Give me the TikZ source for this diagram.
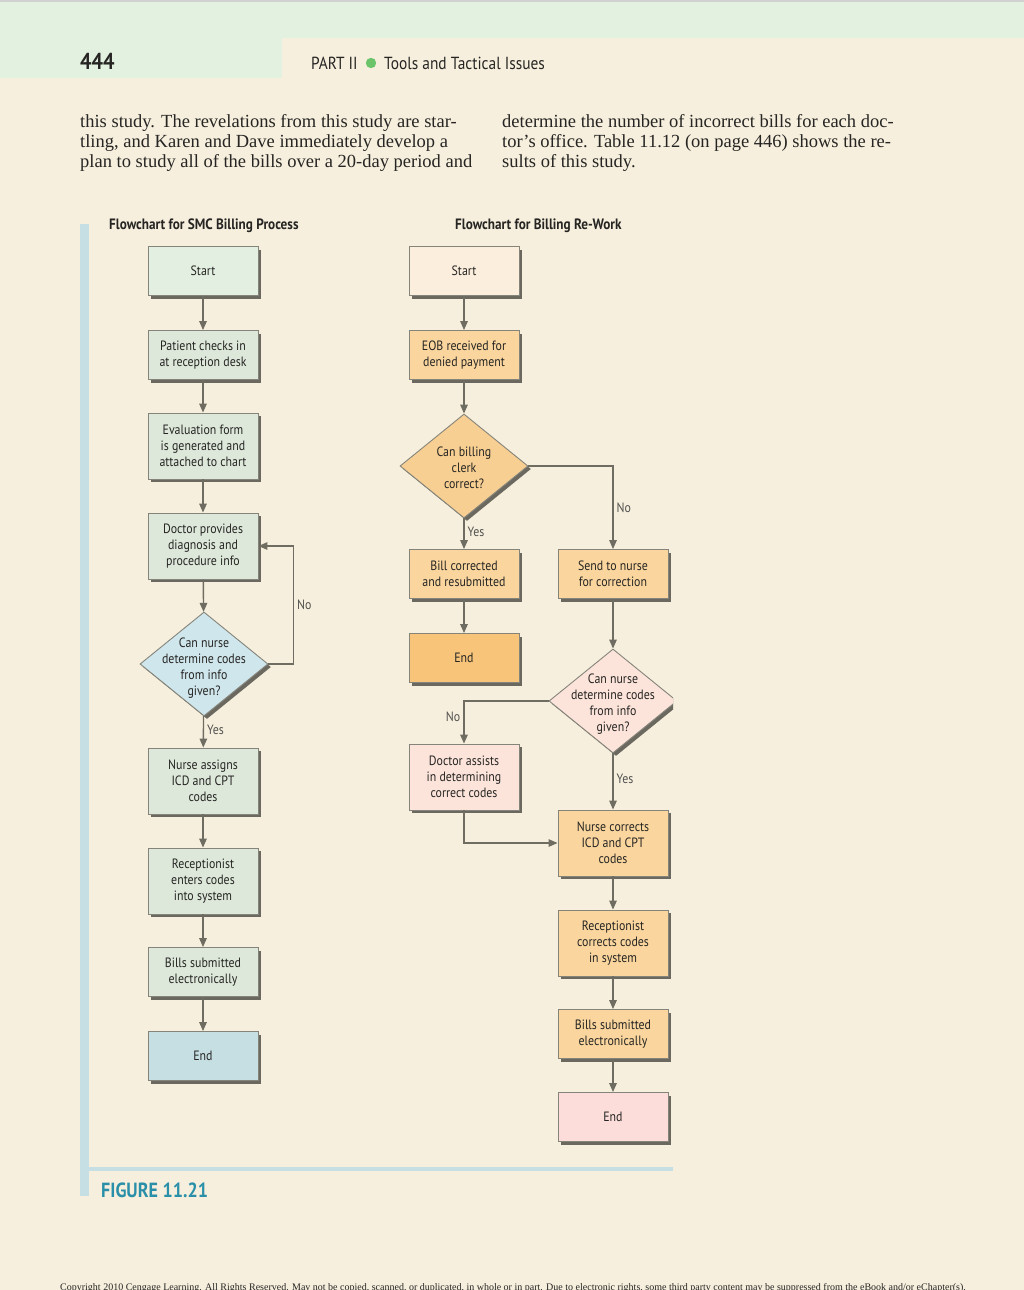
\documentclass[tikz,border=0pt]{standalone}
\usepackage{fontspec}
\setmainfont{Liberation Serif}
\newfontfamily\chartfont[FakeStretch=0.88]{PT Sans}
\usetikzlibrary{arrows.meta,shapes.geometric,shadows}
\definecolor{paper}{HTML}{F6EFDD}
\definecolor{headgreen}{HTML}{E2F1E0}
\definecolor{dotgreen}{HTML}{6CC46A}
\definecolor{ink}{HTML}{262523}
\definecolor{boxline}{HTML}{85847A}
\definecolor{shadowc}{HTML}{6A685F}
\definecolor{arrowc}{HTML}{6F6D62}
\definecolor{panelblue}{HTML}{C5DFE4}
\definecolor{figteal}{HTML}{2A8FA8}
% left chart
\definecolor{lbox}{HTML}{DDE8DA}
\definecolor{lstart}{HTML}{E3EFE1}
\definecolor{ldia}{HTML}{CFE6EC}
\definecolor{lend}{HTML}{C6DFE3}
% right chart
\definecolor{rstart}{HTML}{FCEEDD}
\definecolor{rbox}{HTML}{FAD69E}
\definecolor{rdia}{HTML}{F8CF92}
\definecolor{rendmid}{HTML}{F8C47A}
\definecolor{rpink}{HTML}{FCE4DA}
\definecolor{rend}{HTML}{FCDDDA}

\begin{document}
\begin{tikzpicture}[x=1pt,y=-1pt,
    box/.style={draw=boxline, line width=0.9pt, minimum width=110pt, minimum height=49pt,
      align=center, inner sep=2pt, text=ink, font=\chartfont\fontsize{13.5}{16}\selectfont,
      drop shadow={shadow xshift=3pt, shadow yshift=-3pt, fill=shadowc, opacity=1}},
    tallbox/.style={box, minimum height=66pt},
    dia/.style={diamond, draw=boxline, line width=0.9pt, minimum width=128pt, minimum height=104pt,
      inner sep=0pt, drop shadow={shadow xshift=3pt, shadow yshift=-3pt, fill=shadowc, opacity=1}},
    diatext/.style={align=center, text=ink, inner sep=0pt, font=\chartfont\fontsize{13.5}{16}\selectfont},
    flow/.style={draw=arrowc, line width=1.4pt, -{Triangle[length=9pt,width=7.5pt]}},
    tag/.style={text=ink!80, inner sep=3pt, font=\chartfont\fontsize{13.5}{16}\selectfont},
    body/.style={anchor=base west, inner sep=0pt, text=ink, font=\fontsize{18.5}{20}\selectfont}]
  %%%%% PAGE %%%%%
  \useasboundingbox (0,0) rectangle (1024,1290);
  \fill[paper] (0,0) rectangle (1024,1290);
  \fill[headgreen] (0,0) rectangle (1024,38);
  \fill[headgreen] (0,38) rectangle (282,78);
  \fill[black!18] (0,0) rectangle (1024,2);

  \node[anchor=west, inner sep=0pt, text=ink, font=\chartfont\bfseries\fontsize{23}{24}\selectfont] (pageno) at (80,61) {444};
  \node[anchor=west, inner sep=0pt, text=ink, font=\chartfont\fontsize{17.5}{18}\selectfont] (part) at (311,63) {PART II};
  \fill[dotgreen] (371,63) circle (5.2);
  \node[anchor=west, inner sep=0pt, text=ink, font=\chartfont\fontsize{17.5}{18}\selectfont] (running) at (384,63) {Tools and Tactical Issues};

  % text above the figure
  \node[body] (l1) at (80,127) {this study. The revelations from this study are star-};
  \node[body] (l2) at (80,147) {tling, and Karen and Dave immediately develop a};
  \node[body] (l3) at (80,167) {plan to study all of the bills over a 20-day period and};
  \node[body] (r1) at (502,127) {determine the number of incorrect bills for each doc-};
  \node[body] (r2) at (502,147) {tor's office. Table 11.12 (on page 446) shows the re-};
  \node[body] (r3) at (502,167) {sults of this study.};

  % figure frame
  \fill[panelblue] (80,224) rectangle (89,1196);
  \fill[panelblue] (89,1167) rectangle (673,1171);
  \node[anchor=west, inner sep=0pt, text=figteal, font=\chartfont\bfseries\fontsize{20.5}{22}\selectfont] (fig) at (101,1190) {FIGURE 11.21};

  %%%%% SMC BILLING PROCESS %%%%%
  \node[anchor=west, inner sep=0pt, text=ink, font=\chartfont\bfseries\fontsize{15}{16}\selectfont] (ltitle) at (109,226) {Flowchart for SMC Billing Process};

  \node[box, fill=lstart] (lstart) at (203,271) {Start};
  \node[box, fill=lbox] (checkin) at (203,355) {Patient checks in\\at reception desk};
  \node[tallbox, fill=lbox] (evalform) at (203,446) {Evaluation form\\is generated and\\attached to chart};
  \node[tallbox, fill=lbox] (docinfo) at (203,546) {Doctor provides\\diagnosis and\\procedure info};
  \node[dia, fill=ldia] (lnurseq) at (204,664) {};
  \node[diatext] (lnurseqt) at (204,668) {Can nurse\\determine codes\\from info\\given?};
  \node[tallbox, fill=lbox] (assign) at (203,781) {Nurse assigns\\ICD and CPT\\codes};
  \node[tallbox, fill=lbox] (enter) at (203,881) {Receptionist\\enters codes\\into system};
  \node[box, fill=lbox] (lbills) at (203,972) {Bills submitted\\electronically};
  \node[box, fill=lend] (lend) at (203,1056) {End};

  \draw[flow] (lstart) -- (checkin);
  \draw[flow] (checkin) -- (evalform);
  \draw[flow] (evalform) -- (docinfo);
  \draw[flow] (docinfo) -- (lnurseq);
  \draw[flow] (lnurseq.east) -- ++(25,0) |- node[tag, pos=0.25, right] (lno) {No} (docinfo.east);
  \draw[flow] (lnurseq) -- node[tag, right, pos=0.45] (lyes) {Yes} (assign);
  \draw[flow] (assign) -- (enter);
  \draw[flow] (enter) -- (lbills);
  \draw[flow] (lbills) -- (lend);

  %%%%% BILLING RE-WORK %%%%%
  \node[anchor=west, inner sep=0pt, text=ink, font=\chartfont\bfseries\fontsize{15}{16}\selectfont] (rtitle) at (455,226) {Flowchart for Billing Re-Work};

  \node[box, fill=rstart] (rstart) at (464,271) {Start};
  \node[box, fill=rbox] (eob) at (464,355) {EOB received for\\denied payment};
  \node[dia, fill=rdia] (clerkq) at (464,466) {};
  \node[diatext] (clerkqt) at (464,468) {Can billing\\clerk\\correct?};
  \node[box, fill=rbox] (resub) at (464,574) {Bill corrected\\and resubmitted};
  \node[box, fill=rbox] (tonurse) at (613,574) {Send to nurse\\for correction};
  \node[box, fill=rendmid] (rendmid) at (464,658) {End};
  \begin{scope}
    \clip (0,0) rectangle (673,1290);
    \node[dia, fill=rpink] (rnurseq) at (613,701) {};
  \end{scope}
  \node[diatext] (rnurseqt) at (613,704) {Can nurse\\determine codes\\from info\\given?};
  \node[tallbox, fill=rpink] (docassist) at (464,777) {Doctor assists\\in determining\\correct codes};
  \node[tallbox, fill=rbox] (nursefix) at (613,843) {Nurse corrects\\ICD and CPT\\codes};
  \node[tallbox, fill=rbox] (recepfix) at (613,943) {Receptionist\\corrects codes\\in system};
  \node[box, fill=rbox] (rbills) at (613,1034) {Bills submitted\\electronically};
  \node[box, fill=rend] (rend) at (613,1117) {End};

  \draw[flow] (rstart) -- (eob);
  \draw[flow] (eob) -- (clerkq);
  \draw[flow] (clerkq) -- node[tag, right, pos=0.45] (cyes) {Yes} (resub);
  \draw[flow] (clerkq.east) -| node[tag, pos=0.75, right] (cno) {No} (tonurse);
  \draw[flow] (resub) -- (rendmid);
  \draw[flow] (tonurse) -- (rnurseq);
  \draw[flow] (rnurseq.west) -| node[tag, pos=0.68, left] (nno) {No} (docassist);
  \draw[flow] (rnurseq) -- node[tag, right, pos=0.45] (nyes) {Yes} (nursefix);
  \draw[flow] (docassist) |- (nursefix);
  \draw[flow] (nursefix) -- (recepfix);
  \draw[flow] (recepfix) -- (rbills);
  \draw[flow] (rbills) -- (rend);

  % footer
  \node[anchor=base west, inner sep=0pt, text=ink, font=\fontsize{10}{10}\selectfont] (copy) at (60,1290)
    {Copyright 2010 Cengage Learning. All Rights Reserved. May not be copied, scanned, or duplicated, in whole or in part. Due to electronic rights, some third party content may be suppressed from the eBook and/or eChapter(s).};
\end{tikzpicture}
\end{document}
